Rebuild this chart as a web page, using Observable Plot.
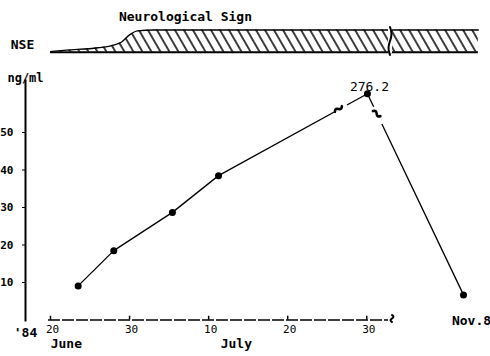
<!DOCTYPE html>
<html><head><meta charset="utf-8">
<script src="https://cdn.jsdelivr.net/npm/d3@7"></script>
<script src="https://cdn.jsdelivr.net/npm/@observablehq/plot@0.6"></script>
<style>
body{margin:0;background:#fff;}
#chart{width:490px;height:356px;overflow:hidden;}
#chart svg{display:block;}
</style></head><body><div id="chart"></div>
<script>
// ---- data ----
const measureDates = ["1984-06-23T12:00","1984-06-28T00:00","1984-07-05T10:00","1984-07-11T06:00","1984-07-30T02:00","1984-11-08T00:00"];
const nseValues = [9.1, 18.5, 28.7, 38.5, 276.2, 6.7];
const pointLabels = ["", "", "", "", "276.2", "Nov.8"];

const signDates = ["1984-06-20T00:00","1984-06-22T00:00","1984-06-26T00:00","1984-06-28T00:00","1984-06-29T00:00","1984-06-30T00:00","1984-07-01T00:00","1984-07-03T00:00","1984-11-28T00:00"];
const signLevels = [0.03, 0.09, 0.2, 0.32, 0.46, 0.78, 0.96, 1.0, 1.0];

const tickDates = ["1984-06-20T00:00","1984-06-30T00:00","1984-07-10T00:00","1984-07-20T00:00","1984-07-30T00:00"];
const tickLabels = ["20","30","10","20","30"];
const monthDates = ["1984-06-22T00:00","1984-07-13T12:00"];
const monthLabels = ["June","July"];
const yTicks = [10, 20, 30, 40, 50];
const axisBreakDate = "1984-08-02T00:00";
const lastDate = "1984-11-08T00:00";

const parse = s => new Date(s + "Z");
const points = measureDates.map((d, i) => ({date: parse(d), value: nseValues[i], label: pointLabels[i]}));
const sign = signDates.map((d, i) => ({date: parse(d), level: signLevels[i]}));
const ticks = tickDates.map((d, i) => ({date: parse(d), label: tickLabels[i]}));
const months = monthDates.map((d, i) => ({date: parse(d), label: monthLabels[i]}));

const xScale = {type: "utc", domain: [tickDates[0], axisBreakDate, lastDate].map(parse), range: [50, 390, 463]};
const font = "DejaVu Sans Mono";

// ---- top panel: neurological sign ----
const topPlot = Plot.plot({
  width: 490, height: 58,
  marginTop: 0, marginBottom: 0, marginLeft: 25, marginRight: 0,
  x: {...xScale, axis: null},
  y: {type: "linear", domain: [0, 1], range: [51.7, 29.5], axis: null},
  style: {fontFamily: font, background: "white", color: "black", overflow: "visible"},
  marks: [
    Plot.areaY(sign, {x: "date", y: "level", fill: "url(#hatch)", curve: "monotone-x"}),
    Plot.lineY(sign, {x: "date", y: "level", curve: "monotone-x", stroke: "black", strokeWidth: 1.3}),
    Plot.ruleY([0], {x1: sign[0].date, x2: sign[sign.length - 1].date, stroke: "black", strokeWidth: 2}),
    Plot.text(["Neurological Sign"], {frameAnchor: "top-left", textAnchor: "middle", dx: 160, dy: 16, lineAnchor: "middle", fontSize: 13, fontWeight: "bold"}),
    Plot.text(["NSE"], {frameAnchor: "top-left", textAnchor: "middle", dx: -3, dy: 44, lineAnchor: "middle", fontSize: 13, fontWeight: "bold"})
  ]
});

// hatch pattern
{
  const svg = d3.select(topPlot);
  const defs = svg.insert("defs", ":first-child");
  const pat = defs.append("pattern").attr("id", "hatch").attr("patternUnits", "userSpaceOnUse")
    .attr("width", 7.8).attr("height", 10).attr("patternTransform", "rotate(-30)");
  pat.append("line").attr("x1", 3.9).attr("x2", 3.9).attr("y1", 0).attr("y2", 10).attr("stroke", "black").attr("stroke-width", 1.5);
}

// ---- bottom panel: NSE concentration ----
const bottomPlot = Plot.plot({
  width: 490, height: 298,
  marginTop: 22, marginBottom: 36, marginLeft: 25, marginRight: 0,
  x: {...xScale, axis: null},
  y: {type: "linear", domain: [0, 55, 276.2], range: [261.5, 55.25, 35.3], axis: null},
  style: {fontFamily: font, background: "white", color: "black", overflow: "visible"},
  marks: [
    Plot.frame({anchor: "left", stroke: "black", strokeWidth: 2}),
    Plot.axisY(yTicks, {anchor: "left", tickSize: 3, tickPadding: 9, fontSize: 11, fontWeight: "bold", tickFormat: d => String(d), label: null}),
    Plot.ruleY([0], {x1: ticks[0].date, x2: parse(axisBreakDate), stroke: "black", strokeWidth: 1.6, strokeDasharray: "12,2", dx: -2}),
    Plot.ruleX(ticks, {x: "date", y1: 0, y2: 1, stroke: "black", strokeWidth: 1.5}),
    Plot.text(ticks, {x: "date", text: "label", frameAnchor: "bottom", dy: 9, dx: 2, fontSize: 11, lineAnchor: "middle"}),
    Plot.text(months, {x: "date", text: "label", frameAnchor: "bottom", dy: 23, fontSize: 13, fontWeight: "bold", lineAnchor: "middle"}),
    Plot.text(["'84"], {frameAnchor: "bottom-left", textAnchor: "middle", dy: 12, fontSize: 13, fontWeight: "bold", lineAnchor: "middle"}),
    Plot.text(["ng/ml"], {frameAnchor: "top-left", textAnchor: "middle", dy: -2, fontSize: 12, fontWeight: "bold", lineAnchor: "middle"}),
    Plot.line(points, {x: "date", y: "value", stroke: "black", strokeWidth: 1.3}),
    Plot.dot(points, {x: "date", y: "value", r: 3.5, fill: "black"}),
    Plot.text(points.filter(d => d.label === "276.2"), {x: "date", y: "value", text: "label", dy: -7, dx: 2, fontSize: 13, lineAnchor: "middle"}),
    Plot.text(points.filter(d => d.label === "Nov.8"), {x: "date", y: "value", text: "label", dy: 26, dx: 8, fontSize: 13, fontWeight: "bold", lineAnchor: "middle"})
  ]
});

// break marks, positioned through the plot's scales
function squiggle(g, cx, cy, len, angle, width) {
  const pts = d3.range(0, 9).map(i => {
    const t = i / 8 - 0.5;
    return [Math.sin(i / 8 * Math.PI * 2) * 1.6, t * len];
  });
  g.append("path").attr("d", d3.line().curve(d3.curveBasis)(pts))
    .attr("transform", `translate(${cx},${cy}) rotate(${angle})`)
    .attr("fill", "none").attr("stroke", "black").attr("stroke-width", width).attr("stroke-linecap", "round");
}
function gapOnSegment(svg, p0, p1, t, gap, markAngle) {
  const x = p0[0] + (p1[0] - p0[0]) * t, y = p0[1] + (p1[1] - p0[1]) * t;
  const dx = p1[0] - p0[0], dy = p1[1] - p0[1], L = Math.hypot(dx, dy);
  const ux = dx / L, uy = dy / L;
  svg.append("line").attr("x1", x - ux * gap / 2).attr("y1", y - uy * gap / 2)
    .attr("x2", x + ux * gap / 2).attr("y2", y + uy * gap / 2)
    .attr("stroke", "white").attr("stroke-width", 4);
  const ang = Math.atan2(dy, dx) * 180 / Math.PI;
  squiggle(svg, x - ux * 2, y - uy * 2, 9, ang + markAngle, 2.6);
}
{
  const sx = bottomPlot.scale("x"), sy = bottomPlot.scale("y");
  const svg = d3.select(bottomPlot);
  const P = points.map(d => [sx.apply(d.date), sy.apply(d.value)]);
  gapOnSegment(svg, P[3], P[4], 0.82, 15, 80);
  gapOnSegment(svg, P[4], P[5], 0.11, 19, 60);
  // x-axis break
  const bx = sx.apply(parse(axisBreakDate)), by = sy.apply(0);
  squiggle(svg, bx + 2, by - 1, 7, 0, 2);
  // top panel break
  const tx = topPlot.scale("x").apply(parse(axisBreakDate));
  const tsvg = d3.select(topPlot);
  tsvg.append("rect").attr("x", tx - 2).attr("y", 27).attr("width", 4).attr("height", 26).attr("fill", "white");
  squiggle(tsvg, tx, 41, 28, 0, 2);
}

document.getElementById("chart").append(topPlot, bottomPlot);
</script>
</body></html>
